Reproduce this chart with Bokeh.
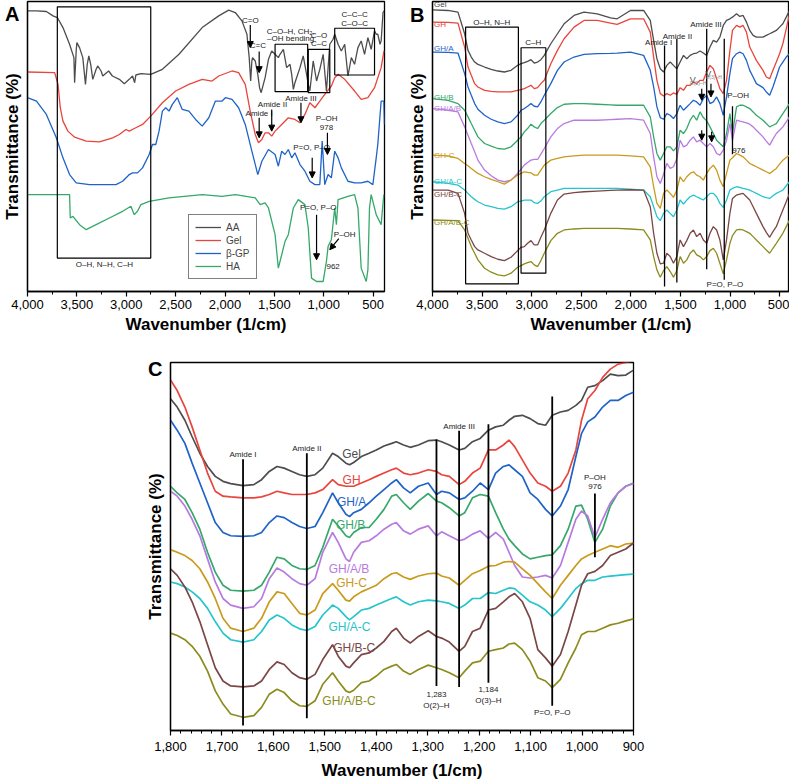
from bokeh.plotting import figure
from bokeh.models import (Range1d, SingleIntervalTicker, FixedTicker, NumeralTickFormatter,
                          Legend, LegendItem, Arrow, NormalHead)
from bokeh.layouts import column, row
from bokeh.embed import file_html
from bokeh.resources import INLINE
from bokeh.core.properties import value

FONT = "Liberation Sans"

C_BLACK = "#4d4d4d"
C_RED = "#e8453c"
C_BLUE = "#1f63c9"
C_GREEN = "#35a86a"
C_VIOLET = "#b77be0"
C_GOLD = "#c99a1c"
C_CYAN = "#26c4cc"
C_BROWN = "#7b4646"
C_OLIVE = "#8c8c1e"

# ---------------- Panel A data (wavenumber, transmittance a.u.) ----------------
A_AA_WN = [4000, 3909, 3809, 3742, 3698, 3641, 3574, 3530, 3523, 3507, 3500, 3473, 3440, 3413, 3395,
           3379, 3360, 3339, 3305, 3289, 3255, 3238, 3200, 3178, 3140, 3070, 3020, 2970, 2936, 2915,
           2903, 2852, 2752, 2634, 2466, 2231, 2064, 1963, 1896, 1829, 1778, 1755, 1740, 1728, 1721,
           1694, 1668, 1650, 1634, 1594, 1560, 1527, 1493, 1460, 1443, 1409, 1376, 1342, 1325, 1308,
           1292, 1275, 1241, 1208, 1174, 1157, 1141, 1107, 1073, 1040, 1006, 973, 939, 906, 889,
           855, 822, 788, 755, 721, 688, 654, 621, 587, 553, 520, 486, 469, 453, 430, 419, 400, 390]
A_AA = [840, 840, 838, 825, 820, 790, 740, 700, 625, 720, 745, 730, 700, 620, 680,
        705, 680, 635, 665, 675, 660, 645, 655, 660, 645, 635, 622, 635, 645, 625,
        648, 652, 650, 665, 710, 790, 825, 842, 835, 810, 770, 700, 630, 690, 700,
        690, 650, 610, 595, 640, 695, 720, 710, 700, 710, 725, 670, 680, 650, 605,
        625, 640, 670, 705, 650, 620, 600, 690, 630, 665, 710, 600, 740, 755, 770,
        740, 720, 740, 645, 700, 680, 730, 750, 710, 760, 725, 780, 770, 770, 740, 750, 835, 840]

A_GEL_WN = [4000, 3725, 3691, 3668, 3641, 3591, 3523, 3406, 3272, 3138, 3070, 3003, 2970, 2903, 2835,
            2752, 2634, 2500, 2366, 2231, 2131, 2064, 1929, 1862, 1795, 1745, 1694, 1661, 1627, 1594,
            1560, 1527, 1493, 1426, 1359, 1292, 1241, 1191, 1141, 1090, 1040, 990, 923, 889, 855,
            788, 688, 621, 553, 486, 419, 390]
A_GEL = [657, 655, 620, 550, 510, 480, 462, 450, 448, 460, 470, 485, 480, 490, 500,
         525, 565, 600, 620, 635, 630, 645, 660, 655, 620, 540, 470, 445, 455, 475,
         475, 465, 480, 500, 520, 515, 505, 530, 565, 550, 570, 590, 615, 640, 650,
         635, 600, 575, 580, 610, 670, 720]

A_BGP_WN = [4000, 3909, 3809, 3708, 3641, 3574, 3507, 3372, 3104, 3037, 2986, 2970, 2936, 2886, 2835,
            2768, 2735, 2701, 2668, 2634, 2601, 2567, 2533, 2483, 2433, 2366, 2298, 2231, 2164, 2097,
            2030, 1996, 1929, 1862, 1795, 1728, 1668, 1627, 1560, 1493, 1460, 1426, 1392, 1359, 1325,
            1292, 1241, 1191, 1141, 1090, 1040, 1016, 990, 956, 923, 889, 855, 822, 755, 688,
            621, 553, 503, 469, 453, 419, 392, 385]
A_BGP = [580, 570, 530, 460, 400, 350, 325, 320, 320, 330, 345, 350, 355, 355, 370,
         410, 440, 440, 480, 540, 550, 540, 560, 580, 545, 540, 515, 495, 520, 570,
         570, 580, 575, 550, 500, 420, 350, 390, 425, 410, 375, 420, 410, 425, 400,
         415, 380, 360, 330, 320, 320, 450, 320, 350, 340, 420, 400, 370, 330, 325,
         325, 330, 320, 400, 440, 570, 570, 500]

A_HA_WN = [4000, 3574, 3567, 3540, 3473, 3406, 3305, 3171, 3037, 2953, 2919, 2886, 2852, 2768, 2567,
           2231, 2030, 1896, 1694, 1644, 1594, 1560, 1493, 1460, 1426, 1392, 1359, 1308, 1258, 1191,
           1157, 1124, 1073, 1006, 973, 956, 923, 889, 872, 855, 755, 688, 654, 621, 570,
           553, 537, 520, 469, 419, 392]
A_HA = [290, 290, 220, 225, 200, 185, 200, 220, 240, 255, 230, 240, 260, 270, 280,
        290, 285, 290, 280, 260, 265, 250, 170, 70, 110, 150, 170, 250, 275, 260,
        190, 40, 30, 30, 90, 135, 155, 250, 200, 275, 285, 290, 250, 70, 30,
        65, 250, 290, 230, 200, 290]

A_NAMES = ["AA", "Gel", "\u03b2-GP", "HA"]

# boxes (left, right, bottom, top)
A_BOX_L = [3698, 1493, 1157, 889]
A_BOX_R = [2752, 1163, 939, 486]
A_BOX_B = [100, 598, 595, 648]
A_BOX_T = [852, 740, 725, 788]

A_TXT_X = [3221, 1744, 1667, 1335, 1335, 1049, 1049, 688, 688, 1231, 1519, 1654, 972, 972, 1123, 1056, 788, 905]
A_TXT_Y = [80, 812, 735, 778, 758, 765, 742, 830, 802, 578, 560, 532, 518, 490, 430, 250, 172, 75]
A_TXT = ["O\u2013H, N\u2013H, C\u2013H", "C=O", "C=C", "C\u2013O\u2013H, CH\u2082,", "\u2013OH bending",
         "C\u2013O", "C\u2013C", "C\u2013C\u2013C", "C\u2013O\u2013C", "Amide III", "Amide II", "Amide I",
         "P\u2013OH", "978", "P=O, P\u2013O", "P=O, P\u2013O", "P\u2013OH", "962"]

A_ARR = [(1744, 798, 1744, 730), (1654, 718, 1654, 655), (1231, 565, 1231, 505),
         (1527, 545, 1527, 480), (1654, 520, 1654, 460), (963, 475, 963, 410),
         (1117, 400, 1117, 340), (1073, 230, 1073, 95), (848, 158, 939, 125)]

# ---------------- Panel B data ----------------
B_WN = [4000, 3843, 3743, 3676, 3642, 3609, 3575, 3542, 3475, 3408,
        3341, 3275, 3208, 3141, 3107, 3074, 3041, 3007, 2974, 2940,
        2907, 2873, 2807, 2740, 2673, 2573, 2472, 2339, 2205, 2138,
        2004, 1871, 1804, 1770, 1737, 1703, 1670, 1637, 1603, 1570,
        1536, 1503, 1469, 1436, 1402, 1369, 1336, 1302, 1269, 1235,
        1202, 1168, 1135, 1102, 1068, 1035, 1001, 975, 934, 901,
        868, 834, 801, 767, 734, 667, 634, 600, 567, 533,
        500, 467, 433, 400]
B_GEL = [847, 845, 840, 775, 725, 705, 690, 683, 675, 668,
         663, 660, 665, 680, 685, 688, 692, 697, 687, 690,
         697, 710, 745, 775, 805, 830, 840, 835, 823, 820,
         845, 845, 815, 755, 700, 670, 660, 680, 690, 680,
         670, 690, 710, 700, 710, 715, 717, 723, 717, 710,
         735, 755, 750, 765, 800, 815, 820, 825, 835, 827,
         830, 810, 785, 770, 765, 765, 770, 775, 780, 785,
         795, 805, 825, 845]
B_GH = [810, 809, 807, 735, 675, 650, 625, 615, 605, 602,
        600, 600, 600, 605, 607, 610, 615, 620, 610, 613,
        625, 635, 685, 725, 760, 795, 815, 815, 807, 803,
        820, 820, 780, 705, 635, 595, 588, 595, 590, 597,
        593, 613, 605, 620, 620, 630, 625, 635, 635, 660,
        680, 670, 640, 610, 595, 635, 725, 785, 800, 795,
        800, 780, 735, 715, 695, 665, 645, 640, 665, 690,
        715, 745, 790, 835]
B_GHA = [720, 719, 717, 655, 615, 590, 565, 548, 530, 518,
         510, 505, 510, 530, 545, 550, 557, 565, 557, 555,
         570, 590, 625, 665, 690, 705, 713, 715, 716, 717,
         720, 710, 665, 615, 555, 523, 518, 535, 530, 520,
         535, 560, 545, 555, 565, 575, 570, 560, 580, 590,
         565, 570, 585, 565, 530, 585, 655, 700, 715, 720,
         715, 695, 665, 645, 625, 613, 600, 590, 615, 645,
         675, 690, 705, 715]
B_GHB = [580, 575, 565, 545, 525, 505, 485, 465, 445, 437,
         430, 428, 435, 455, 465, 480, 490, 503, 495, 490,
         505, 515, 535, 553, 563, 565, 565, 563, 561, 560,
         560, 560, 525, 465, 415, 395, 415, 435, 435, 423,
         435, 485, 475, 490, 515, 530, 515, 540, 523, 513,
         495, 475, 455, 445, 435, 475, 535, 475, 555, 560,
         560, 555, 550, 540, 530, 515, 505, 495, 500, 505,
         520, 535, 550, 565]
B_GHAB = [550, 545, 540, 495, 470, 445, 420, 395, 365, 348,
          335, 330, 335, 355, 368, 380, 388, 395, 397, 397,
          413, 430, 465, 490, 505, 515, 515, 515, 517, 518,
          520, 515, 475, 405, 345, 325, 353, 385, 370, 375,
          400, 455, 435, 440, 455, 465, 450, 455, 445, 435,
          445, 435, 415, 410, 425, 455, 505, 455, 515, 512,
          510, 507, 503, 495, 485, 465, 452, 440, 458, 475,
          485, 495, 510, 525]
B_GHC = [410, 408, 400, 385, 378, 370, 362, 355, 345, 337,
         330, 323, 335, 350, 355, 360, 358, 357, 350, 350,
         365, 380, 395, 400, 405, 408, 410, 410, 410, 410,
         408, 405, 375, 315, 265, 250, 295, 305, 295, 283,
         305, 345, 330, 345, 355, 360, 350, 345, 335, 355,
         370, 380, 365, 335, 315, 355, 395, 402, 415, 410,
         405, 395, 385, 380, 375, 365, 360, 355, 362, 370,
         383, 395, 403, 410]
B_GHAC = [330, 325, 320, 305, 295, 285, 277, 270, 260, 255,
          250, 248, 255, 270, 272, 275, 275, 275, 267, 265,
          272, 285, 300, 305, 310, 310, 310, 310, 310, 310,
          308, 305, 285, 255, 225, 213, 235, 245, 235, 225,
          245, 275, 263, 275, 285, 290, 285, 280, 275, 285,
          295, 295, 285, 265, 253, 275, 305, 310, 315, 313,
          310, 308, 305, 300, 295, 285, 282, 280, 288, 295,
          300, 305, 318, 330]
B_GHBC = [305, 305, 295, 235, 175, 155, 135, 125, 115, 105,
          97, 93, 103, 123, 133, 135, 145, 153, 140, 140,
          163, 185, 235, 275, 293, 297, 300, 302, 304, 305,
          306, 305, 255, 175, 115, 83, 85, 115, 105, 85,
          105, 155, 135, 153, 175, 185, 165, 175, 155, 145,
          175, 195, 185, 155, 95, 155, 235, 280, 290, 293,
          295, 285, 275, 255, 235, 195, 178, 163, 180, 195,
          220, 245, 270, 295]
B_GHABC = [215, 214, 213, 185, 160, 135, 115, 95, 70, 58,
           50, 47, 55, 73, 78, 83, 87, 90, 80, 75,
           93, 115, 153, 175, 185, 188, 190, 190, 190, 190,
           188, 185, 155, 105, 65, 43, 63, 75, 60, 43,
           63, 105, 85, 95, 115, 125, 110, 105, 95, 105,
           123, 130, 115, 85, 53, 95, 145, 168, 185, 187,
           185, 180, 175, 165, 155, 135, 125, 115, 130, 145,
           160, 175, 195, 215]

SAMPLE_NAMES = ["Gel", "GH", "GH/A", "GH/B", "GH/A/B", "GH-C", "GH/A-C", "GH/B-C", "GH/A/B-C"]
SAMPLE_COLORS = [C_BLACK, C_RED, C_BLUE, C_GREEN, C_VIOLET, C_GOLD, C_CYAN, C_BROWN, C_OLIVE]

B_LABEL_Y = [863, 803, 732, 582, 549, 410, 332, 292, 208]

B_BOX_L = [3666, 3107]
B_BOX_R = [3134, 2857]
B_BOX_B = [23, 55]
B_BOX_T = [795, 733]

B_VL_X = [1660, 1536, 1235, 1058, 975]
B_VL_Y0 = [15, 27, 67, 35, 413]
B_VL_Y1 = [740, 760, 790, 760, 557]

B_TXT_X = [3402, 2984, 1720, 1530, 1242, 1051, 918, 911]
B_TXT_Y = [810, 748, 748, 767, 803, 20, 588, 425]
B_TXT = ["O\u2013H, N\u2013H", "C\u2013H", "Amide I", "Amide II", "Amide III", "P=O, P\u2013O", "P\u2013OH", "976"]

B_ARR = [(1285, 610, 1285, 575), (1192, 625, 1192, 585), (1285, 485, 1285, 455), (1185, 480, 1185, 450)]

# ---------------- Panel C data ----------------
C_WN = [1800, 1787, 1772, 1758, 1743, 1728, 1713, 1698, 1683, 1659,
        1638, 1623, 1608, 1593, 1579, 1564, 1549, 1535, 1519, 1504,
        1485, 1474, 1459, 1452, 1444, 1429, 1414, 1400, 1385, 1370,
        1361, 1347, 1334, 1318, 1299, 1283, 1273, 1258, 1239, 1228,
        1213, 1198, 1182, 1168, 1153, 1142, 1131, 1116, 1101, 1086,
        1071, 1058, 1042, 1027, 1012, 1001, 989, 975, 960, 945,
        930, 915, 900]
C_GEL = [1005, 980, 940, 890, 840, 800, 770, 755, 748, 742,
         745, 760, 785, 800, 795, 785, 775, 770, 775, 795,
         840, 830, 810, 805, 812, 830, 840, 850, 862, 870,
         875, 865, 858, 865, 878, 880, 875, 865, 850, 855,
         875, 885, 910, 920, 925, 940, 952, 955, 945, 930,
         925, 955, 965, 970, 985, 1000, 1040, 1045, 1060, 1080,
         1075, 1077, 1092]
C_GH = [1062, 1030, 980, 920, 850, 780, 725, 710, 708, 705,
        705, 708, 715, 725, 720, 715, 715, 715, 720, 730,
        760, 745, 740, 740, 740, 750, 760, 770, 780, 790,
        795, 780, 775, 780, 790, 785, 775, 770, 745, 755,
        780, 795, 850, 850, 865, 880, 860, 820, 780, 750,
        740, 725, 740, 780, 850, 940, 1005, 1030, 1070, 1095,
        1110, 1115, 1120]
C_GHA = [940, 910, 870, 810, 750, 690, 630, 600, 590, 588,
         590, 600, 630, 650, 645, 630, 618, 612, 618, 660,
         720, 690, 655, 648, 660, 670, 690, 710, 730, 750,
         760, 735, 720, 740, 750, 715, 725, 720, 700, 705,
         725, 750, 730, 780, 800, 805, 790, 770, 720, 700,
         670, 650, 680, 730, 830, 900, 935, 950, 980, 1000,
         1000, 1015, 1025]
C_GHB = [740, 720, 700, 660, 610, 540, 480, 440, 425, 422,
         425, 440, 480, 525, 520, 500, 490, 488, 500, 555,
         640, 620, 590, 585, 600, 615, 615, 640, 670, 710,
         715, 690, 670, 695, 718, 695, 690, 675, 650, 660,
         705, 715, 710, 660, 610, 580, 560, 535, 520, 525,
         530, 532, 560, 610, 680, 683, 640, 570, 610, 680,
         720, 740, 750]
C_GHAB = [725, 710, 680, 640, 590, 520, 450, 400, 380, 370,
          375, 400, 460, 492, 480, 460, 445, 440, 460, 540,
          600, 570, 520, 512, 540, 570, 575, 590, 610, 625,
          630, 605, 595, 610, 620, 590, 602, 590, 575, 580,
          595, 605, 582, 600, 580, 540, 500, 465, 462, 465,
          470, 462, 500, 570, 640, 665, 650, 585, 640, 690,
          720, 740, 748]
C_GHC = [548, 540, 530, 515, 490, 450, 400, 340, 310, 300,
         310, 340, 390, 420, 415, 385, 355, 350, 365, 415,
         445, 425, 395, 392, 405, 420, 430, 440, 460, 475,
         478, 465, 458, 468, 475, 477, 468, 462, 440, 455,
         475, 485, 498, 500, 510, 512, 510, 490, 470, 445,
         420, 400, 440, 470, 500, 520, 530, 540, 550, 560,
         555, 565, 568]
C_GHAC = [450, 445, 435, 420, 400, 370, 330, 295, 275, 268,
          275, 300, 335, 350, 340, 320, 308, 303, 315, 350,
          380, 370, 345, 335, 345, 365, 370, 380, 390, 400,
          405, 390, 380, 390, 395, 393, 390, 385, 370, 380,
          400, 400, 418, 415, 425, 432, 430, 410, 390, 380,
          365, 345, 370, 400, 430, 445, 455, 455, 465, 468,
          470, 472, 474]
C_GHBC = [490, 470, 435, 390, 330, 260, 190, 150, 135, 132,
          135, 150, 185, 208, 200, 175, 160, 155, 170, 215,
          260, 225, 195, 190, 205, 230, 235, 250, 270, 300,
          310, 280, 265, 285, 302, 285, 280, 268, 240, 255,
          300, 310, 365, 370, 390, 405, 415, 390, 340, 245,
          220, 195, 230, 300, 380, 440, 475, 482, 500, 530,
          540, 550, 568]
C_GHABC = [295, 288, 275, 255, 225, 180, 120, 80, 50, 40,
           45, 70, 110, 125, 115, 90, 75, 73, 90, 140,
           175, 150, 120, 115, 122, 145, 150, 165, 185, 195,
           200, 180, 170, 185, 198, 190, 185, 175, 160, 180,
           205, 210, 240, 245, 250, 262, 265, 245, 210, 160,
           150, 130, 155, 205, 250, 290, 300, 300, 310, 320,
           325, 332, 338]

C_LABEL_X = [1448, 1448, 1448, 1450, 1453, 1448, 1452, 1443, 1453]
C_LABEL_Y = [838, 760, 693, 623, 490, 447, 315, 250, 90]

C_VL_X = [1659, 1535, 1283, 1239, 1182, 1058, 975]
C_VL_Y0 = [15, 37, 135, 132, 145, 75, 525]
C_VL_Y1 = [822, 840, 882, 908, 928, 1012, 718]

C_TXT_X = [1659, 1535, 1283, 1283, 1239, 1182, 1182, 1058, 975, 975]
C_TXT_Y = [837, 853, 108, 75, 922, 123, 90, 54, 767, 738]
C_TXT = ["Amide I", "Amide II", "1,283", "O(2)\u2013H", "Amide III", "1,184", "O(3)\u2013H",
         "P=O, P\u2013O", "P\u2013OH", "976"]

# panel letters: (letter, y position in data units near the frame top)
PANEL_LETTERS = {"A": 847, "B": 851, "C": 1094}


def make_fig(width, height, xr, yr, mbl, mbr, mbt, interval, nminor, lab_standoff, ax_standoff, letter):
    p = figure(width=width, height=height, x_range=Range1d(xr[0], xr[1]),
               y_range=Range1d(yr[0], yr[1]), output_backend="svg", toolbar_location=None,
               min_border_left=mbl, min_border_right=mbr, min_border_top=mbt, min_border_bottom=0)
    p.xgrid.visible = False
    p.ygrid.visible = False
    p.outline_line_color = "black"
    p.outline_line_width = 1.3
    p.outline_line_alpha = 1.0
    p.background_fill_color = "white"
    p.border_fill_color = "white"
    xa = p.xaxis[0]
    xa.ticker = SingleIntervalTicker(interval=interval, num_minor_ticks=nminor)
    xa.formatter = NumeralTickFormatter(format="0,0")
    xa.axis_label = "Wavenumber (1/cm)"
    xa.axis_label_text_font = FONT
    xa.axis_label_text_font_style = "bold"
    xa.axis_label_text_font_size = "17px"
    xa.axis_label_text_color = "black"
    xa.axis_label_standoff = ax_standoff
    xa.major_label_text_font = FONT
    xa.major_label_text_font_size = "13px"
    xa.major_label_text_color = "black"
    xa.major_label_standoff = lab_standoff
    xa.major_tick_out = 5
    xa.major_tick_in = 0
    xa.minor_tick_out = 3
    xa.minor_tick_in = 0
    xa.axis_line_width = 1.3
    xa.major_tick_line_width = 1.2
    xa.minor_tick_line_width = 1.0
    # y axis: no numeric ticks; the panel letter is shown as the single tick label at the top
    ly = PANEL_LETTERS[letter]
    ya = p.yaxis[0]
    ya.ticker = FixedTicker(ticks=[ly])
    ya.major_label_overrides = {ly: letter, str(ly): letter}
    ya.major_label_text_font = FONT
    ya.major_label_text_font_style = "bold"
    ya.major_label_text_font_size = "20px"
    ya.major_label_text_color = "black"
    ya.major_label_standoff = 8
    ya.major_tick_line_color = None
    ya.minor_tick_line_color = None
    ya.major_tick_out = 0
    ya.major_tick_in = 0
    ya.minor_tick_out = 0
    ya.minor_tick_in = 0
    ya.axis_label = "Transmittance (%)"
    ya.axis_label_text_font = FONT
    ya.axis_label_text_font_style = "bold"
    ya.axis_label_text_font_size = "17px"
    ya.axis_label_text_color = "black"
    ya.axis_label_standoff = -20
    ya.axis_line_width = 1.3
    return p


def add_texts(p, xs, ys, texts, size, color="#222222", align="center"):
    p.text(x=xs, y=ys, text=texts, text_font=value(FONT), text_font_size=value(size),
           text_color=color, text_align=align, text_baseline="middle")


def add_arrows(p, arrs):
    for (x0, y0, x1, y1) in arrs:
        p.add_layout(Arrow(end=NormalHead(size=6, fill_color="black", line_color="black", line_width=1),
                           x_start=x0, y_start=y0, x_end=x1, y_end=y1,
                           line_color="black", line_width=1.2))


# ---------------- Panel A ----------------
pA = make_fig(405, 336, (4000, 385), (0, 868), 0, 21, 1, 500, 2, 3, 3, "A")
a_series = [(A_AA_WN, A_AA, C_BLACK), (A_GEL_WN, A_GEL, C_RED),
            (A_BGP_WN, A_BGP, C_BLUE), (A_HA_WN, A_HA, C_GREEN)]
a_rends = []
for wn, t, col in a_series:
    a_rends.append(pA.line(wn, t, line_color=col, line_width=1.3))
pA.quad(left=A_BOX_L, right=A_BOX_R, bottom=A_BOX_B, top=A_BOX_T,
        fill_alpha=0, line_color="black", line_width=1.2)
add_texts(pA, A_TXT_X, A_TXT_Y, A_TXT, "8px")
add_arrows(pA, A_ARR)
legA = Legend(items=[LegendItem(label=n, renderers=[r]) for n, r in zip(A_NAMES, a_rends)],
              location=(161, 12), label_text_font=FONT, label_text_font_size="10px",
              glyph_width=26, glyph_height=12, label_height=12, spacing=1, padding=6, margin=0,
              label_standoff=5, border_line_color="black", border_line_width=1,
              background_fill_alpha=1.0)
pA.add_layout(legA)

# ---------------- Panel B ----------------
pB = make_fig(384, 336, (4000, 400), (0, 872), 0, 0, 1, 500, 2, 3, 3, "B")
b_vals = [B_GEL, B_GH, B_GHA, B_GHB, B_GHAB, B_GHC, B_GHAC, B_GHBC, B_GHABC]
for vals, col in zip(b_vals, SAMPLE_COLORS):
    pB.line(B_WN, vals, line_color=col, line_width=1.3)
pB.quad(left=B_BOX_L, right=B_BOX_R, bottom=B_BOX_B, top=B_BOX_T,
        fill_alpha=0, line_color="black", line_width=1.2)
pB.segment(x0=B_VL_X, y0=B_VL_Y0, x1=B_VL_X, y1=B_VL_Y1, line_color="black", line_width=1.3)
add_texts(pB, B_TXT_X, B_TXT_Y, B_TXT, "8px")
add_texts(pB, [3985] * 9, B_LABEL_Y, SAMPLE_NAMES, "8px", color=SAMPLE_COLORS, align="left")
add_texts(pB, [1376, 1219], [637, 653], ["V", "V"], "9px", color="#555555")
add_texts(pB, [1322, 1165], [628, 644], ["O(2)\u2013H", "O(3)\u2013H"], "5px", color="#888888")
add_arrows(pB, B_ARR)

# ---------------- Panel C ----------------
pC = make_fig(648, 446, (1800, 900), (0, 1115), 170, 15, 26, 100, 5, 6, 7, "C")
c_vals = [C_GEL, C_GH, C_GHA, C_GHB, C_GHAB, C_GHC, C_GHAC, C_GHBC, C_GHABC]
for vals, col in zip(c_vals, SAMPLE_COLORS):
    pC.line(C_WN, vals, line_color=col, line_width=1.7)
pC.segment(x0=C_VL_X, y0=C_VL_Y0, x1=C_VL_X, y1=C_VL_Y1, line_color="black", line_width=1.8)
add_texts(pC, C_TXT_X, C_TXT_Y, C_TXT, "8px")
add_texts(pC, C_LABEL_X, C_LABEL_Y, SAMPLE_NAMES, "12px", color=SAMPLE_COLORS)

layout = column(row(pA, pB), pC)

with open("out.html", "w") as f:
    f.write(file_html(layout, INLINE, title="FTIR spectra"))
